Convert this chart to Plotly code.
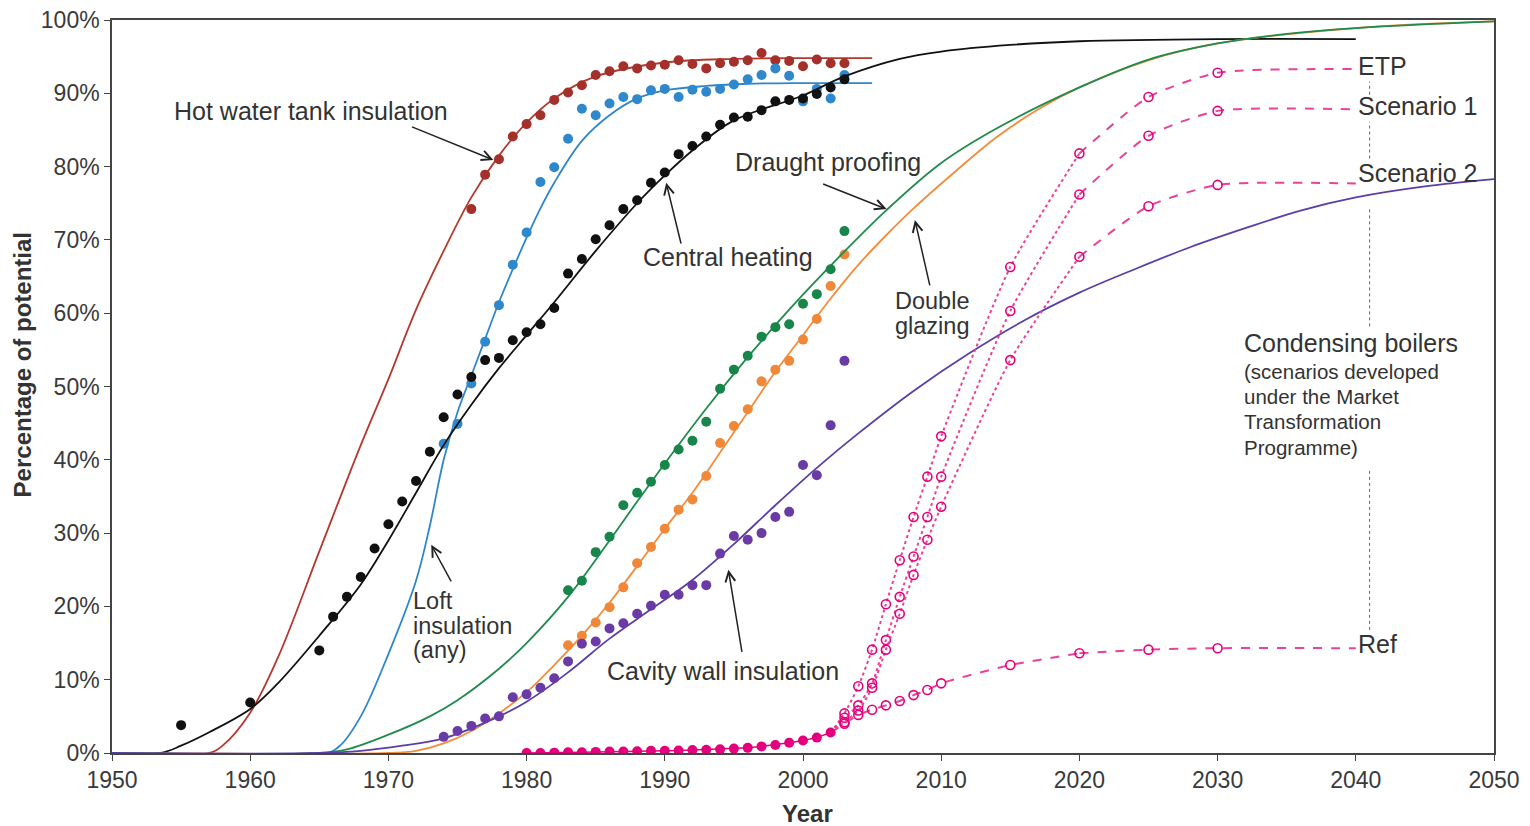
import plotly.graph_objects as go

# ---------------- data ----------------
# Hot water tank insulation
hw_years = list(range(1976, 2004))
hw_vals = [74.2, 78.9, 81.0, 84.1, 85.8, 87.0, 89.1, 90.1, 91.1, 92.5, 93.0, 93.7, 93.4, 93.8,
           93.9, 94.5, 94.0, 93.4, 94.1, 94.3, 94.5, 95.5, 94.5, 94.4, 93.7, 94.6, 94.1, 94.1]
hw_fit_x = [1950, 1957, 1958, 1960, 1962, 1965, 1968, 1970, 1972, 1974, 1976, 1978, 1980, 1982,
            1985, 1990, 1995, 2000, 2005]
hw_fit_y = [0, 0, 1.0, 5.5, 13, 27.5, 42, 51, 60.5, 68.5, 75.8, 81.5, 86, 89.3, 92.3, 94.2,
            94.7, 94.8, 94.8]

# Loft insulation (any)
loft_years = list(range(1974, 2004))
loft_vals = [42.2, 44.9, 50.4, 56.1, 61.1, 66.6, 71.0, 77.9, 79.9, 83.8, 87.9, 87.0, 88.6, 89.5,
             89.2, 90.4, 90.6, 89.5, 90.5, 90.2, 90.6, 91.2, 91.9, 92.5, 93.4, 92.4, 88.9, 90.6,
             89.3, 92.5]
loft_fit_x = [1950, 1965.5, 1966.5, 1968, 1970, 1972, 1973, 1974, 1975, 1976, 1977, 1978, 1979,
              1980, 1981, 1982, 1984, 1986, 1988, 1990, 1993, 1996, 2000, 2005]
loft_fit_y = [0, 0, 1, 5, 13.5, 23.5, 31, 40, 46.5, 51.5, 56.5, 61.5, 66, 70.3, 74.3, 77.8, 83.5,
              87, 89.3, 90.4, 91.0, 91.3, 91.4, 91.4]

# Central heating
ch_years = [1955, 1960, 1965] + list(range(1966, 2004))
ch_vals = [3.8, 6.9, 14.0, 18.6, 21.3, 24.0, 27.9, 31.2, 34.3, 37.1, 41.1, 45.8, 48.9, 51.3,
           53.6, 53.9, 56.3, 57.4, 58.5, 60.7, 65.4, 67.4, 70.1, 72.0, 74.2, 75.4, 77.8, 79.2,
           81.7, 82.8, 84.1, 85.7, 86.7, 86.8, 87.7, 88.9, 89.1, 89.3, 89.9, 90.8, 91.9]
ch_fit_x = [1950, 1953.5, 1955, 1957, 1960, 1962, 1965, 1968, 1970, 1972, 1974, 1976, 1978, 1980,
            1982, 1985, 1988, 1990, 1992, 1995, 2000, 2003, 2007, 2010, 2015, 2020, 2030, 2040]
ch_fit_y = [0, 0, 1, 2.8, 6, 9.5, 16, 23, 29, 35.5, 42, 47.5, 52.5, 57, 61.5, 68.5, 75, 78.8,
            82.2, 86.3, 89.7, 92.3, 94.7, 95.7, 96.6, 97.1, 97.4, 97.4]

# Draught proofing
dp_years = list(range(1983, 2004))
dp_vals = [22.2, 23.5, 27.4, 29.5, 33.8, 35.5, 37.0, 39.3, 41.4, 42.6, 45.2, 49.7, 52.3, 54.2,
           56.8, 58.1, 58.5, 61.3, 62.6, 66.0, 71.2]
dp_fit_x = [1950, 1965, 1967, 1970, 1973, 1975, 1978, 1980, 1983, 1986, 1988, 1990, 1993, 1996,
            1999, 2002, 2006, 2010, 2014, 2020, 2025, 2030, 2035, 2040, 2050]
dp_fit_y = [0, 0, 0.5, 2.5, 5, 7.2, 11.5, 15, 21.3, 29, 34.3, 39.5, 47, 54, 60.5, 66.5, 74,
            80.5, 85.2, 90.8, 94.6, 96.8, 98.1, 98.9, 99.8]

# Double glazing
dg_years = list(range(1983, 2004))
dg_vals = [14.7, 16.0, 17.8, 19.9, 22.6, 25.9, 28.1, 30.6, 33.2, 34.6, 37.8, 42.3, 44.6, 46.9,
           50.7, 52.3, 53.5, 56.4, 59.2, 63.7, 68.0]
dg_fit_x = [1950, 1970, 1972, 1974, 1976, 1978, 1980, 1982, 1984, 1986, 1988, 1990, 1992, 1994,
            1996, 1998, 2000, 2002, 2004, 2006, 2008, 2011, 2014, 2017, 2020, 2025, 2030, 2040,
            2050]
dg_fit_y = [0, 0, 0.3, 1.3, 3, 5.4, 8.3, 12, 16, 20.5, 25.5, 30.6, 35.5, 41, 46.5, 52, 57, 62,
            66.6, 70.6, 74.3, 79.3, 84, 87.8, 90.8, 94.5, 96.8, 98.9, 99.8]

# Cavity wall insulation
cw_years = list(range(1974, 2004))
cw_vals = [2.2, 3.0, 3.7, 4.7, 5.0, 7.6, 8.0, 8.9, 10.2, 12.5, 14.9, 15.2, 17.0, 17.7, 19.0,
           20.1, 21.6, 21.6, 22.9, 22.9, 27.2, 29.6, 29.1, 30.0, 32.2, 32.9, 39.3, 37.9, 44.7,
           53.5]
cw_fit_x = [1950, 1965, 1968, 1971, 1974, 1978, 1980, 1983, 1986, 1989, 1992, 1995, 1998, 2001,
            2004, 2008, 2012, 2016, 2020, 2024, 2028, 2032, 2036, 2040, 2045, 2050]
cw_fit_y = [0, 0, 0.3, 1, 2, 5, 7, 11, 15.6, 19.6, 23.6, 28.5, 33.8, 38.9, 43.6, 49.4, 54.5, 59,
            62.8, 66, 69, 71.6, 74, 75.8, 77.3, 78.3]

# Condensing boilers (actual)
cb_years = list(range(1980, 2003))
cb_vals = [0, 0, 0.05, 0.1, 0.1, 0.15, 0.2, 0.2, 0.25, 0.3, 0.3, 0.35, 0.4, 0.45, 0.5, 0.6, 0.7,
           0.9, 1.1, 1.4, 1.7, 2.1, 2.8]

# Condensing boiler scenarios
sc_years = [2002, 2003, 2004, 2005, 2006, 2007, 2008, 2009, 2010, 2015, 2020, 2025, 2030, 2040]
sc_etp = [2.8, 5.4, 9.1, 14.1, 20.3, 26.3, 32.2, 37.7, 43.2, 66.3, 81.8, 89.5, 92.8, 93.3]
sc_s1 = [2.8, 4.8, 6.5, 9.5, 15.4, 21.3, 26.8, 32.2, 37.7, 60.3, 76.2, 84.2, 87.6, 87.8]
sc_s2 = [2.8, 4.2, 5.8, 8.9, 14.1, 19.0, 24.3, 29.1, 33.6, 53.6, 67.7, 74.6, 77.5, 77.7]
sc_ref = [2.8, 4.0, 5.2, 5.9, 6.5, 7.1, 7.9, 8.6, 9.5, 12.0, 13.6, 14.1, 14.3, 14.3]

x_ticks = list(range(1950, 2051, 10))
y_ticks = list(range(0, 101, 10))
y_tick_labels = [f"{v}%" for v in y_ticks]

# ---------------- figure ----------------
FONT = "Liberation Sans, Arial, Helvetica, sans-serif"
TXT = "#333333"
fig = go.Figure()

series = [
    (hw_fit_x, hw_fit_y, hw_years, hw_vals, "#B5382F", "#A3302A"),
    (loft_fit_x, loft_fit_y, loft_years, loft_vals, "#2F86CC", "#2F87CC"),
    (ch_fit_x, ch_fit_y, ch_years, ch_vals, "#111111", "#111111"),
    (dg_fit_x, dg_fit_y, dg_years, dg_vals, "#F28C3C", "#F0883A"),
    (dp_fit_x, dp_fit_y, dp_years, dp_vals, "#1F8B4C", "#18854A"),
    (cw_fit_x, cw_fit_y, cw_years, cw_vals, "#5B3FA6", "#6A3BA5"),
]
for fx, fy, px, py, lc, mc in series:
    fig.add_trace(go.Scatter(x=fx, y=fy, mode="lines",
                             line=dict(color=lc, width=1.8, shape="spline", smoothing=1.0),
                             hoverinfo="skip"))
    fig.add_trace(go.Scatter(x=px, y=py, mode="markers",
                             marker=dict(color=mc, size=10, line=dict(width=0))))

PINK = "#E4007C"
PINKL = "#E8429A"
split = sc_years.index(2020)
for vals, steep_dash in [(sc_etp, "dot"), (sc_s1, "dot"), (sc_s2, "dot"), (sc_ref, "dash")]:
    fig.add_trace(go.Scatter(x=sc_years[:split + 1], y=vals[:split + 1], mode="lines",
                             line=dict(color=PINKL, width=2, dash=steep_dash,
                                       shape="spline", smoothing=0.6)))
    fig.add_trace(go.Scatter(x=sc_years[split:], y=vals[split:], mode="lines",
                             line=dict(color=PINKL, width=2, dash="dash",
                                       shape="spline", smoothing=0.6)))
    fig.add_trace(go.Scatter(x=sc_years[1:-1], y=vals[1:-1], mode="markers",
                             marker=dict(symbol="circle-open", color=PINK, size=9,
                                         line=dict(width=1.6, color=PINK))))

fig.add_trace(go.Scatter(x=cb_years, y=cb_vals, mode="lines+markers",
                         line=dict(color=PINK, width=1.5),
                         marker=dict(color=PINK, size=10)))

# ---------------- annotations ----------------
PX_PER_PCT = 7.33
ann = []
def label(x, y, text, size=25, xanchor="center", yanchor="middle"):
    ann.append(dict(x=x, y=y, xref="x", yref="y", text=text, showarrow=False,
                    xanchor=xanchor, yanchor=yanchor,
                    font=dict(family=FONT, size=size, color=TXT)))

def lines(x, y_first, texts, spacing_px, size=25, xanchor="center"):
    for i, t in enumerate(texts):
        label(x, y_first - i * spacing_px / PX_PER_PCT, t, size=size, xanchor=xanchor)

def arrow(tx, ty, hx, hy):
    ann.append(dict(x=hx, y=hy, ax=tx, ay=ty, xref="x", yref="y", axref="x", ayref="y",
                    text="", showarrow=True, arrowhead=5, arrowsize=1.3, arrowwidth=1.5,
                    arrowcolor="#222222", standoff=0))

label(1964.4, 87.6, "Hot water tank insulation")
arrow(1971.6, 85.5, 1977.6, 80.9)
label(1994.6, 67.7, "Central heating")
arrow(1991.2, 69.3, 1990.1, 77.8)
label(2001.8, 80.6, "Draught proofing")
arrow(2001.35, 77.7, 2006.05, 74.2)
lines(2009.3, 61.6, ["Double", "glazing"], 25, size=23.5)
arrow(2009.2, 63.6, 2008.1, 72.7)
lines(1971.6, 20.7, ["Loft", "insulation", "(any)"], 24.5, size=23.5, xanchor="left")
arrow(1974.6, 23.2, 1973.1, 28.4)
label(1994.2, 11.2, "Cavity wall insulation")
arrow(1995.6, 13.6, 1994.6, 25.0)

label(2040, 93.7, "ETP", xanchor="left")
label(2040, 88.3, "Scenario 1", xanchor="left")
label(2040, 79.1, "Scenario 2", xanchor="left")
label(2040, 14.9, "Ref", xanchor="left")
label(2031.8, 55.9, "Condensing boilers", xanchor="left")
lines(2031.8, 52.1, ["(scenarios developed", "under the Market", "Transformation", "Programme)"],
      25.3, size=20.5, xanchor="left")

# axis titles
ann.append(dict(x=-0.065, y=0.529, xref="paper", yref="paper", text="<b>Percentage of potential</b>",
                textangle=-90, showarrow=False, xanchor="center", yanchor="middle",
                font=dict(family=FONT, size=24, color=TXT)))
ann.append(dict(x=0.5036, y=-0.082, xref="paper", yref="paper", text="<b>Year</b>",
                showarrow=False, xanchor="center", yanchor="middle",
                font=dict(family=FONT, size=24, color=TXT)))

shapes = []
for y0, y1 in [(89.8, 91.6), (81.1, 86.1), (58.2, 74.3), (16.8, 38.8)]:
    shapes.append(dict(type="line", xref="x", yref="y", x0=2041, x1=2041, y0=y0, y1=y1,
                       line=dict(color="#666666", width=1, dash="dot")))

# the page adds an 8px body margin, so the figure is 8px smaller in each direction
fig.update_layout(
    width=1522, height=818,
    margin=dict(l=104, r=36, t=12, b=73, autoexpand=False),
    plot_bgcolor="white", paper_bgcolor="white",
    showlegend=False,
    annotations=ann, shapes=shapes,
    font=dict(family=FONT, color=TXT),
)
fig.update_xaxes(range=[1950, 2050], tickmode="array", tickvals=x_ticks, ticks="outside",
                 ticklen=6, tickcolor="#444", showline=True, linecolor="#444", linewidth=1.5,
                 mirror=True, showgrid=False, zeroline=False, automargin=False,
                 ticklabeloverflow="allow",
                 tickfont=dict(family=FONT, size=23, color="#3a3a3a"))
fig.update_yaxes(range=[0, 100], tickmode="array", tickvals=y_ticks, ticktext=y_tick_labels,
                 ticks="outside", ticklen=6, tickcolor="#444", showline=True, linecolor="#444",
                 linewidth=1.5, mirror=True, showgrid=False, zeroline=False, automargin=False,
                 ticklabeloverflow="allow",
                 tickfont=dict(family=FONT, size=23, color="#3a3a3a"))

fig.write_html("out.html")
